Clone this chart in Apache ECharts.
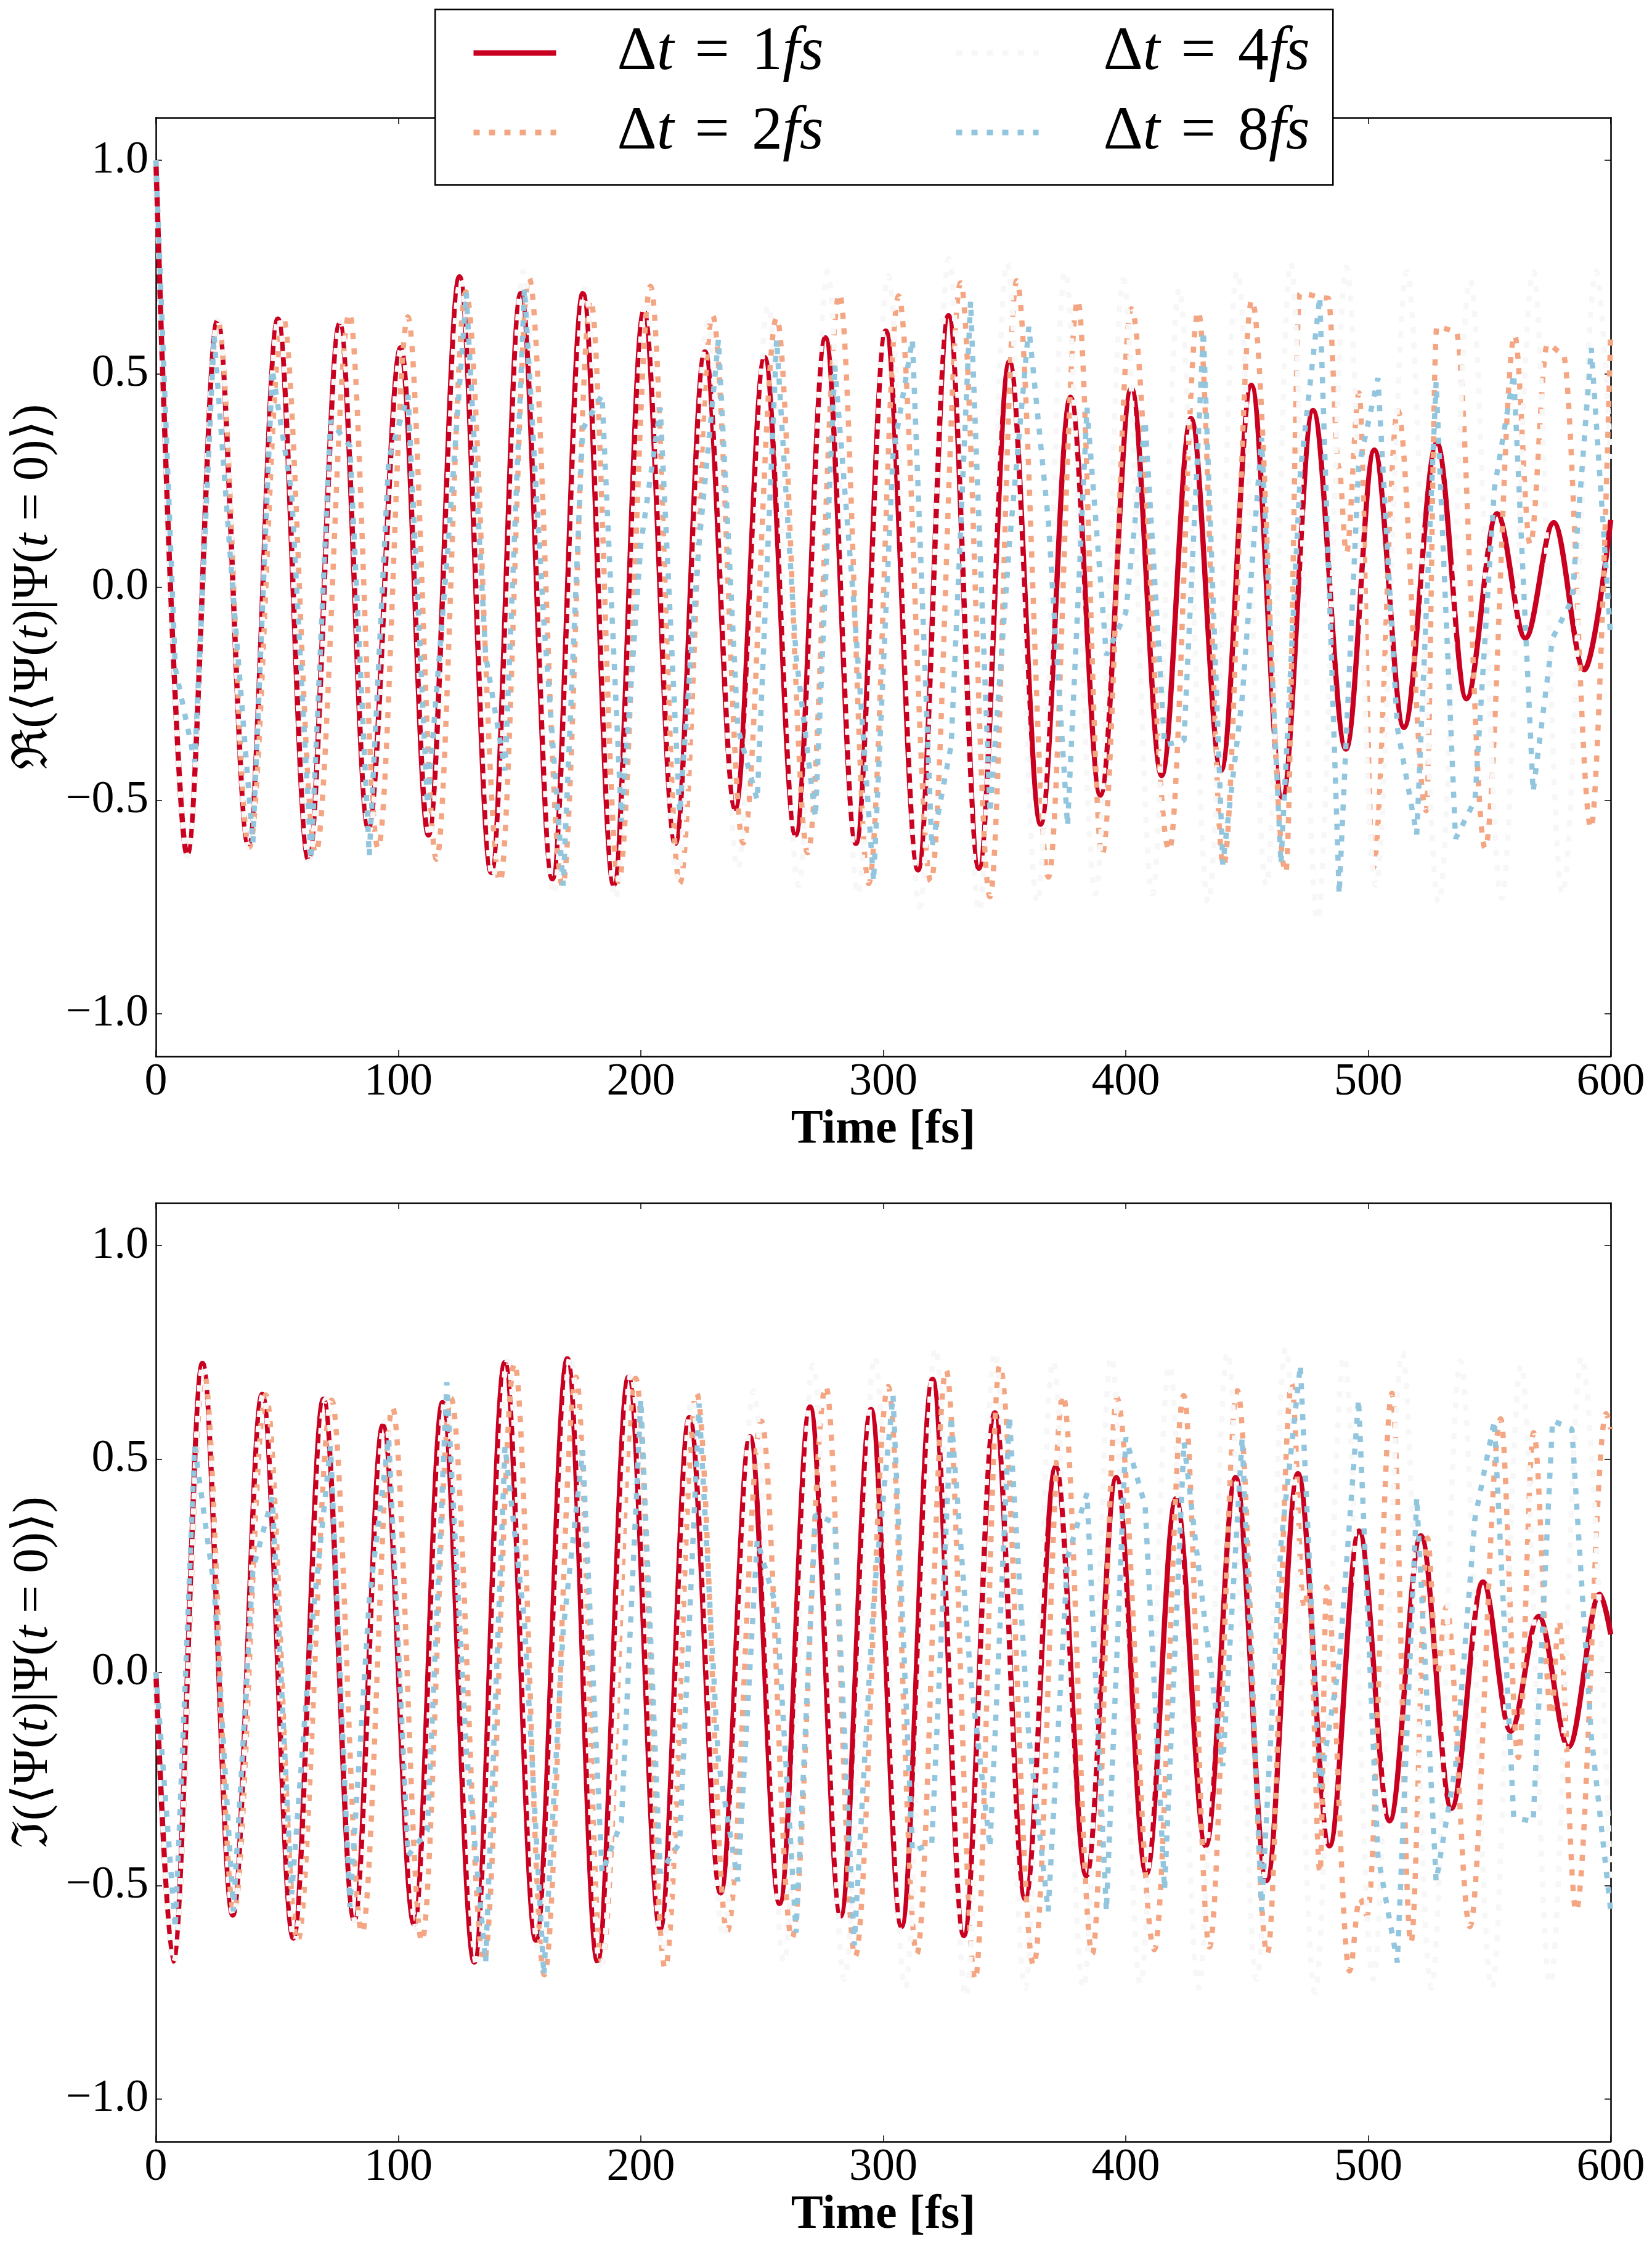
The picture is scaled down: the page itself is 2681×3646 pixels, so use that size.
<!DOCTYPE html>
<html><head><meta charset="utf-8">
<script src="https://cdn.jsdelivr.net/npm/echarts@6/dist/echarts.min.js"></script>
<style>html,body{margin:0;padding:0;background:#fff}#c{width:2681px;height:3646px}</style>
</head><body><div id="c"></div>
<script>
// ---------- tick labels / legend ----------
const xTicks = [0, 100, 200, 300, 400, 500, 600];
const yTicks = [-1.0, -0.5, 0.0, 0.5, 1.0];
const seriesNames = ['dt1', 'dt2', 'dt4', 'dt8'];
const stepLabels = {dt1: '1', dt2: '2', dt4: '4', dt8: '8'};

// ---------- top panel: Re<Psi(t)|Psi(0)> ----------
const re_dt1 = [[0,1.0],[12.9,-0.627],[25.4,0.624],[38.1,-0.604],[50.3,0.628],[62.9,-0.638],[75.8,0.617],[87.6,-0.565],[101,0.561],[112.4,-0.581],[125.2,0.727],[138.3,-0.669],[150.5,0.688],[163.5,-0.684],[176.1,0.688],[188.8,-0.698],[201.2,0.646],[214.2,-0.601],[226.4,0.551],[238.9,-0.519],[251,0.538],[263.8,-0.581],[276.1,0.584],[288.7,-0.601],[301,0.6],[314.3,-0.663],[326.9,0.636],[339.4,-0.659],[352,0.528],[364.9,-0.556],[377.2,0.445],[389.5,-0.488],[402.3,0.466],[414.8,-0.442],[426.9,0.395],[439.3,-0.43],[451.8,0.473],[464.5,-0.493],[477.2,0.414],[490.8,-0.38],[502.5,0.321],[514.7,-0.329],[528.3,0.337],[540.5,-0.262],[553.1,0.172],[564.8,-0.12],[576.5,0.151],[589.1,-0.194],[600,0.157]];
const re_dt2 = [[0,1.0],[13,-0.63],[25.6,0.62],[38.5,-0.61],[52.4,0.633],[65.9,-0.623],[79.8,0.641],[91.6,-0.612],[103.9,0.633],[115.7,-0.638],[127.8,0.692],[141.9,-0.69],[153.9,0.724],[167.7,-0.70],[179.3,0.672],[190.8,-0.69],[204,0.705],[216,-0.695],[229.6,0.636],[242.2,-0.6],[256,0.631],[268.8,-0.623],[281.9,0.687],[294,-0.695],[306.3,0.682],[319.6,-0.69],[331.9,0.713],[344,-0.726],[355,0.718],[368.1,-0.68],[380.2,0.672],[390.2,-0.628],[402.3,0.652],[417.9,-0.617],[429.9,0.646],[440.3,-0.653],[452,0.672],[466,-0.669],[471.8,0.688],[483.5,0.677],[487.9,0.28],[491,0.08],[496.2,0.455],[502,-0.659],[512.2,0.414],[523.9,-0.524],[528.3,0.61],[536.1,0.6],[548.2,-0.612],[560.4,0.59],[566.8,0.1],[573.9,0.569],[580.2,0.548],[591.9,-0.565],[600,0.6]];
const re_dt4 = [[0,1.0],[13,-0.63],[25.5,0.625],[38.3,-0.61],[50.6,0.63],[63.2,-0.64],[76.2,0.62],[88,-0.57],[101.5,0.565],[113,-0.585],[125.7,0.72],[139,-0.68],[151.5,0.74],[164,-0.72],[177,0.7],[189.5,-0.73],[202,0.67],[215,-0.68],[227.5,0.62],[240,-0.66],[252.5,0.66],[265,-0.7],[277,0.74],[289.5,-0.72],[302,0.73],[315,-0.75],[327,0.77],[339.5,-0.76],[351,0.76],[363.5,-0.74],[375,0.74],[387.5,-0.72],[399,0.72],[411,-0.72],[422,0.7],[434,-0.74],[446,0.74],[458,-0.7],[468,0.76],[479,-0.78],[491,0.75],[503,-0.7],[516,0.74],[529,-0.74],[542,0.72],[555,-0.73],[568,0.74],[580,-0.72],[594,0.74],[600,0.3]];
const re_dt8 = [[0,1.0],[8,-0.19],[16,-0.41],[24,0.59],[32,-0.03],[40,-0.60],[48,0.51],[56,0.22],[64,-0.64],[72,0.39],[80,0.33],[88,-0.63],[96,0.30],[104,0.45],[112,-0.51],[120,0.06],[128,0.69],[136,-0.16],[144,-0.43],[152,0.70],[160,-0.08],[168,-0.70],[176,0.37],[184,0.45],[192,-0.55],[200,0.10],[208,0.42],[216,-0.53],[224,0.10],[232,0.58],[240,-0.33],[248,-0.50],[256,0.58],[264,-0.16],[272,-0.54],[280,0.52],[288,-0.05],[296,-0.69],[304,0.31],[312,0.58],[320,-0.61],[328,-0.37],[336,0.67],[344,-0.53],[352,0.10],[360,0.61],[368,0.16],[376,-0.56],[384,0.42],[392,-0.16],[400,-0.06],[408,0.39],[416,-0.37],[424,-0.36],[432,0.60],[440,-0.65],[448,-0.26],[456,0.35],[464,-0.65],[472,0.27],[480,0.68],[488,-0.72],[496,0.28],[504,0.49],[512,-0.33],[520,-0.58],[528,0.48],[536,-0.59],[544,-0.50],[552,0.23],[560,0.50],[568,-0.48],[576,-0.12],[584,-0.03],[592,0.56],[600,-0.12]];

// ---------- bottom panel: Im<Psi(t)|Psi(0)> ----------
const im_dt1 = [[0,0],[7.1,-0.677],[19.2,0.724],[31.7,-0.569],[43.8,0.651],[56.7,-0.623],[69.1,0.64],[81.8,-0.58],[93.6,0.578],[106.5,-0.59],[118.2,0.632],[131.3,-0.679],[143.9,0.726],[156.7,-0.628],[169.7,0.735],[182.1,-0.677],[194.9,0.692],[208,-0.601],[220,0.597],[232.9,-0.517],[245,0.552],[257.2,-0.542],[269.8,0.622],[282.4,-0.571],[294.9,0.616],[307.5,-0.596],[320.3,0.687],[333.2,-0.617],[346,0.608],[358.5,-0.531],[371.1,0.482],[383.7,-0.477],[396.1,0.457],[408.5,-0.472],[420.7,0.407],[433,-0.407],[445.3,0.457],[458.1,-0.488],[471,0.466],[484,-0.407],[496.2,0.331],[508.8,-0.348],[521.7,0.32],[534.3,-0.319],[547.3,0.212],[558.7,-0.138],[570.3,0.131],[582.6,-0.175],[595.5,0.183],[600,0.089]];
const im_dt2 = [[0,0],[7.3,-0.68],[19.7,0.708],[32.2,-0.56],[45.3,0.65],[58.4,-0.63],[72.5,0.638],[85,-0.61],[97.6,0.62],[109.7,-0.63],[121.7,0.643],[135.3,-0.677],[147.9,0.724],[160.2,-0.709],[173.3,0.692],[183.8,-0.677],[197.9,0.689],[210,-0.693],[223,0.654],[235.6,-0.607],[249.7,0.589],[262.3,-0.623],[276.3,0.67],[288.4,-0.666],[302,0.67],[313.8,-0.66],[325.9,0.708],[337.9,-0.72],[348,0.719],[362,-0.687],[374.1,0.649],[386.2,-0.66],[396.3,0.643],[411.8,-0.65],[423.9,0.649],[434.5,-0.644],[446,0.66],[458.4,-0.66],[468.4,0.676],[473.5,0.15],[475.5,0.2],[480.1,-0.47],[482.8,0.2],[492.3,-0.7],[496.5,-0.53],[499.5,-0.57],[509.8,0.654],[517.6,-0.634],[524.4,0.315],[528.5,0.0],[532.2,0.153],[541.9,-0.596],[554.6,0.594],[561.9,-0.2],[568.2,0.562],[575.5,-0.1],[578.6,0.12],[585.7,-0.559],[598.1,0.606],[600,0.57]];
const im_dt4 = [[0,0],[7.3,-0.68],[19.5,0.72],[32,-0.57],[44.2,0.65],[57.2,-0.63],[70,0.64],[82.5,-0.59],[94.5,0.59],[107.5,-0.6],[119.5,0.64],[132.5,-0.69],[145,0.73],[158,-0.66],[171,0.74],[183.5,-0.7],[196,0.7],[209,-0.65],[221,0.64],[234,-0.62],[246.5,0.66],[259,-0.68],[271,0.72],[284,-0.72],[296.5,0.74],[309,-0.74],[321.5,0.76],[334,-0.76],[346,0.75],[358.5,-0.74],[370,0.73],[382.5,-0.74],[394,0.74],[406,-0.73],[418,0.72],[430,-0.74],[442,0.75],[454,-0.72],[466,0.76],[478,-0.75],[490,0.74],[502,-0.72],[514,0.75],[526,-0.74],[538,0.73],[551,-0.74],[563,0.72],[575,-0.73],[588,0.74],[600,-0.5]];
const im_dt8 = [[0,0.0],[8,-0.60],[16,0.53],[24,0.20],[32,-0.56],[40,0.24],[48,0.41],[56,-0.52],[64,0.09],[72,0.53],[80,-0.55],[88,0.17],[96,0.55],[104,-0.43],[112,-0.37],[120,0.68],[128,-0.18],[136,-0.68],[144,0.53],[152,0.12],[160,-0.71],[168,0.10],[176,0.52],[184,-0.47],[192,-0.35],[200,0.64],[208,-0.47],[216,-0.40],[224,0.63],[232,-0.21],[240,-0.49],[248,0.31],[256,0.15],[264,-0.61],[272,0.37],[280,0.35],[288,-0.64],[296,0.17],[304,0.65],[312,-0.42],[320,-0.40],[328,0.60],[336,-0.01],[344,-0.41],[352,0.60],[360,-0.15],[368,-0.56],[376,0.27],[384,0.42],[392,-0.56],[400,0.55],[408,0.39],[416,-0.51],[424,0.54],[432,0.15],[440,-0.22],[448,0.55],[456,-0.56],[464,0.30],[472,0.72],[480,-0.27],[488,0.02],[496,0.64],[504,-0.43],[512,-0.68],[520,0.41],[528,-0.49],[536,-0.22],[544,0.36],[552,0.59],[560,-0.34],[568,-0.35],[576,0.59],[584,0.57],[592,-0.15],[600,-0.56]];

// ---------- styling ----------
const FONT = "'Liberation Serif', 'DejaVu Serif', serif";
const COLORS = {dt1: '#ca0020', dt2: '#f4a582', dt4: '#f7f7f7', dt8: '#92c5de'};
const LW = 8.5;
const DASH = [10, 15];

function xAx(gi, pos, showLabel) {
  return {
    type: 'value', gridIndex: gi, position: pos, min: 0, max: 600, interval: 100,
    axisLine: {show: true, onZero: false, lineStyle: {color: '#000', width: 2.5}},
    axisTick: {show: true, inside: true, length: 10, lineStyle: {color: '#000', width: 1.5}},
    axisLabel: {show: showLabel, margin: 6, color: '#000', fontFamily: FONT, fontSize: 74},
    splitLine: {show: false},
    name: showLabel ? 'Time [fs]' : '', nameLocation: 'middle', nameGap: 80,
    nameTextStyle: {color: '#000', fontFamily: FONT, fontSize: 78, fontWeight: 'bold'}
  };
}
function yAx(gi, pos, showLabel, name) {
  return {
    type: 'value', gridIndex: gi, position: pos, min: -1.1, max: 1.1,
    axisLine: {show: true, onZero: false, lineStyle: {color: '#000', width: 2.5}},
    axisTick: {show: true, inside: true, length: 10, customValues: yTicks, lineStyle: {color: '#000', width: 1.5}},
    axisLabel: {show: showLabel, customValues: yTicks, margin: 12, color: '#000', fontFamily: FONT, fontSize: 74,
      formatter: v => (v < 0 ? '\u2212' : '') + Math.abs(v).toFixed(1)},
    splitLine: {show: false},
    name: name, nameLocation: 'middle', nameRotate: 90, nameGap: 158,
    nameTextStyle: {color: '#000', fontFamily: FONT, fontSize: 80,
      rich: {n: {fontFamily: FONT, fontSize: 80, color: '#000'},
             i: {fontFamily: FONT, fontSize: 80, fontStyle: 'italic', color: '#000'}}}
  };
}
function mkSeries(name, data, gi) {
  const isRef = name === 'dt1';
  return {
    name: name, type: 'line', xAxisIndex: gi * 2, yAxisIndex: gi * 2, data: data,
    smooth: name === 'dt8' ? false : 0.35, smoothMonotone: 'x',
    symbol: 'none', showSymbol: false, clip: true, animation: false,
    lineStyle: {color: COLORS[name], width: LW, type: isRef ? 'solid' : DASH, cap: 'butt'},
    itemStyle: {color: COLORS[name]}
  };
}
const legendRich = {
  sp: {width: 94},
  sp2: {width: 100},
  n: {fontFamily: FONT, fontSize: 100, color: '#000'},
  i: {fontFamily: FONT, fontSize: 100, fontStyle: 'italic', color: '#000'},
  eq: {fontFamily: FONT, fontSize: 100, color: '#000', padding: [0, 36, 0, 34]}
};
function mkLegend(names, left, sp) {
  return {
    data: names, orient: 'vertical', left: left, top: 31, padding: 0,
    itemWidth: 134, itemHeight: 14, itemGap: 19, selectedMode: false, z: 10,
    itemStyle: {opacity: 0},
    lineStyle: {width: 9},
    formatter: n => '{' + sp + '| }{n|\u0394}{i|t}{eq|=}{n|' + stepLabels[n] + '}{i|fs}',
    textStyle: {color: '#000', fontFamily: FONT, fontSize: 100, lineHeight: 110, rich: legendRich}
  };
}

const chart = echarts.init(document.getElementById('c'), null, {renderer: 'canvas'});
chart.setOption({
  backgroundColor: '#fff',
  animation: false,
  grid: [
    {left: 253, top: 191, width: 2361, height: 1523},
    {left: 253, top: 1952, width: 2361, height: 1523}
  ],
  xAxis: [xAx(0, 'bottom', true), xAx(0, 'top', false), xAx(1, 'bottom', true), xAx(1, 'top', false)],
  yAxis: [
    yAx(0, 'left', true, '{n|\u211C(\u27E8\u03A8(}{i|t}{n|)|\u03A8(}{i|t}{n| = 0)\u27E9)}'),
    yAx(0, 'right', false, ''),
    yAx(1, 'left', true, '{n|\u2111(\u27E8\u03A8(}{i|t}{n|)|\u03A8(}{i|t}{n| = 0)\u27E9)}'),
    yAx(1, 'right', false, '')
  ],
  legend: [mkLegend(['dt1', 'dt2'], 764, 'sp'), mkLegend(['dt4', 'dt8'], 1547, 'sp2')],
  graphic: [{
    type: 'rect', left: 705, top: 14, z: 3,
    shape: {width: 1457, height: 285},
    style: {fill: '#fff', stroke: '#000', lineWidth: 2.5}
  }],
  series: [
    mkSeries('dt1', re_dt1, 0), mkSeries('dt2', re_dt2, 0), mkSeries('dt4', re_dt4, 0), mkSeries('dt8', re_dt8, 0),
    mkSeries('dt1', im_dt1, 1), mkSeries('dt2', im_dt2, 1), mkSeries('dt4', im_dt4, 1), mkSeries('dt8', im_dt8, 1)
  ]
});
</script></body></html>
